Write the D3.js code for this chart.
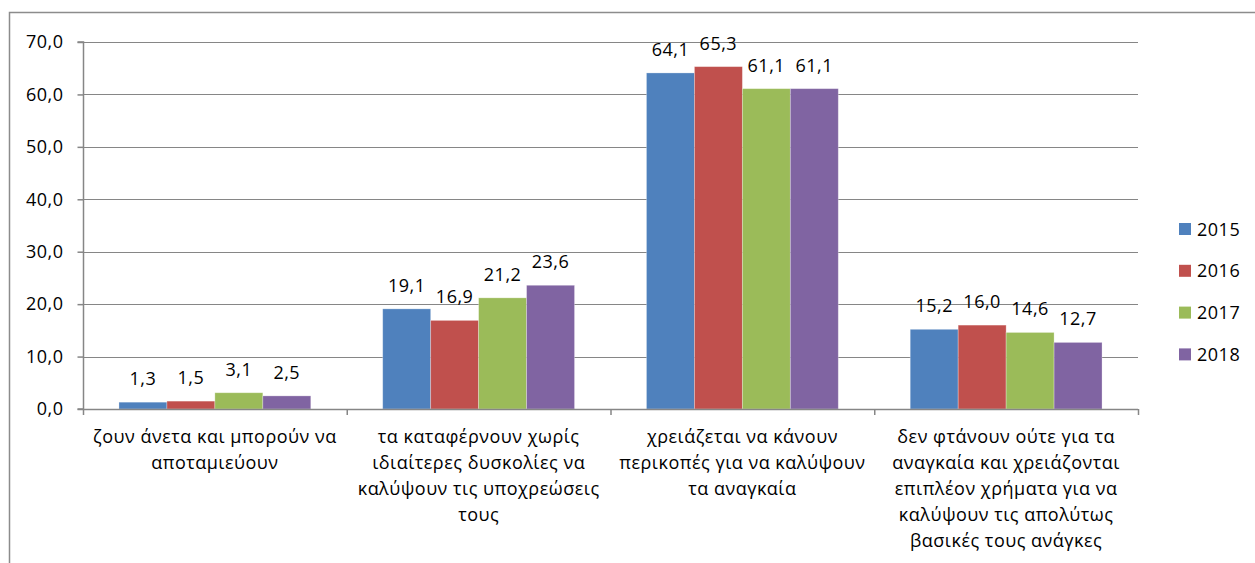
<!DOCTYPE html>
<html>
<head>
<meta charset="utf-8">
<script src="https://cdn.jsdelivr.net/npm/d3@7"></script>
<style>
  html, body { margin: 0; padding: 0; background: #fff; }
  svg { display: block; font-family: "Open Sans", "Noto Sans", sans-serif; letter-spacing: 0.5px; }
</style>
</head>
<body>
<svg id="chart" width="1255" height="563"></svg>
<script>
// Categories (each label split into its display lines)
const categories = [
  ["ζουν άνετα και μπορούν να", "αποταμιεύουν"],
  ["τα καταφέρνουν χωρίς", "ιδιαίτερες δυσκολίες να", "καλύψουν τις υποχρεώσεις", "τους"],
  ["χρειάζεται να κάνουν", "περικοπές για να καλύψουν", "τα αναγκαία"],
  ["δεν φτάνουν ούτε για τα", "αναγκαία και χρειάζονται", "επιπλέον χρήματα για να", "καλύψουν τις απολύτως", "βασικές τους ανάγκες"]
];
const years = ["2015", "2016", "2017", "2018"];
const values2015 = [1.3, 19.1, 64.1, 15.2];
const values2016 = [1.5, 16.9, 65.3, 16.0];
const values2017 = [3.1, 21.2, 61.1, 14.6];
const values2018 = [2.5, 23.6, 61.1, 12.7];
const yTicks = [0, 10, 20, 30, 40, 50, 60, 70];
const colors = ["#4F81BD", "#C0504D", "#9BBB59", "#8064A2"];

const seriesValues = [values2015, values2016, values2017, values2018];
const fmt = v => v.toFixed(1).replace(".", ",");

const svg = d3.select("#chart");
const plotLeft = 83, plotRight = 1138, plotTop = 42, plotBottom = 409;
const axisColor = "#868686";
const fontSize = 18;

// Outer chart frame
svg.append("path")
  .attr("d", "M9.5,563 V12.5 H1255")
  .attr("fill", "none")
  .attr("stroke", "#8c8c8c")
  .attr("stroke-width", 1.5);

const catIdx = categories.map((c, i) => i);
const x0 = d3.scaleBand().domain(catIdx).range([plotLeft, plotRight]).paddingInner(0).paddingOuter(0);
const x1 = d3.scaleBand().domain(years).range([0, x0.bandwidth()]).paddingInner(0).paddingOuter(0.75);
const y = d3.scaleLinear().domain([0, 70]).range([plotBottom, plotTop]);

// Horizontal gridlines
svg.append("g")
  .selectAll("line")
  .data(yTicks.filter(t => t > 0))
  .join("line")
  .attr("x1", plotLeft).attr("x2", plotRight)
  .attr("y1", d => Math.round(y(d)) + 0.5).attr("y2", d => Math.round(y(d)) + 0.5)
  .attr("stroke", axisColor).attr("stroke-width", 1.2);

// Bars
const groups = svg.append("g")
  .selectAll("g")
  .data(catIdx)
  .join("g")
  .attr("transform", i => `translate(${x0(i)},0)`);

groups.selectAll("rect")
  .data(i => years.map((yr, s) => ({ s, yr, v: seriesValues[s][i] })))
  .join("rect")
  .attr("x", d => x1(d.yr))
  .attr("y", d => y(d.v))
  .attr("width", x1.bandwidth())
  .attr("height", d => y(0) - y(d.v))
  .attr("fill", d => colors[d.s])
  .attr("stroke", "rgba(255,255,255,0.35)")
  .attr("stroke-width", 0.8);

// Value labels
groups.selectAll("text")
  .data(i => years.map((yr, s) => ({ s, yr, v: seriesValues[s][i] })))
  .join("text")
  .attr("x", d => x1(d.yr) + x1.bandwidth() / 2)
  .attr("y", d => y(d.v) - 17)
  .attr("text-anchor", "middle")
  .attr("font-size", fontSize)
  .attr("fill", "#000")
  .text(d => fmt(d.v));

// Y axis
const yAxis = d3.axisLeft(y).tickValues(yTicks).tickFormat(fmt).tickSize(6).tickPadding(14);
const gy = svg.append("g").attr("transform", `translate(${plotLeft + 0.5},0)`).call(yAxis);
gy.select(".domain").attr("stroke", axisColor).attr("stroke-width", 1.5).attr("d", `M-6,${plotTop}H0V${plotBottom}H-6`);
gy.selectAll(".tick line").attr("stroke", axisColor).attr("stroke-width", 1.5);
gy.selectAll(".tick text").attr("font-size", fontSize).attr("font-family", "Open Sans, sans-serif").attr("fill", "#000");

// X axis baseline and category boundary ticks
svg.append("line")
  .attr("x1", plotLeft).attr("x2", plotRight)
  .attr("y1", plotBottom + 0.5).attr("y2", plotBottom + 0.5)
  .attr("stroke", axisColor).attr("stroke-width", 1.5);
const bounds = catIdx.map(i => x0(i)).concat([plotRight]);
svg.append("g").selectAll("line")
  .data(bounds)
  .join("line")
  .attr("x1", d => d + 0.5).attr("x2", d => d + 0.5)
  .attr("y1", plotBottom).attr("y2", plotBottom + 6)
  .attr("stroke", axisColor).attr("stroke-width", 1.5);

// Category labels
const catLabels = svg.append("g").selectAll("text")
  .data(catIdx)
  .join("text")
  .attr("text-anchor", "middle")
  .attr("font-size", fontSize)
  .attr("fill", "#000")
  .attr("transform", i => `translate(${x0(i) + x0.bandwidth() / 2},${plotBottom + 34})`);
catLabels.selectAll("tspan")
  .data(i => categories[i])
  .join("tspan")
  .attr("x", 0)
  .attr("y", (d, k) => k * 26)
  .text(d => d);

// Legend
const legend = svg.append("g").selectAll("g")
  .data(years)
  .join("g")
  .attr("transform", (d, k) => `translate(1179,${223 + k * 41.8})`);
legend.append("rect")
  .attr("width", 12).attr("height", 12)
  .attr("fill", (d, k) => colors[k]);
legend.append("text")
  .attr("x", 18).attr("y", 12.5)
  .attr("font-size", fontSize)
  .attr("fill", "#000")
  .text(d => d);
</script>
</body>
</html>
